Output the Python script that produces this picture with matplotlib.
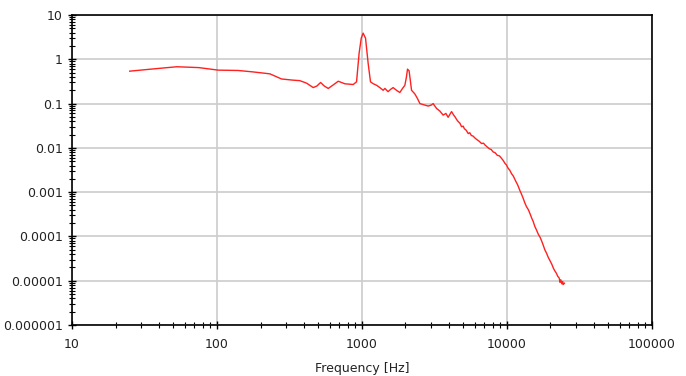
import matplotlib
matplotlib.use("Agg")
import matplotlib.pyplot as plt
from matplotlib.ticker import FixedLocator, FixedFormatter, LogLocator, NullFormatter

freq = [25, 35, 53, 75, 102, 140, 177, 232, 279, 330, 373, 415, 462, 490, 519, 550, 586, 630,
        687, 764, 872, 919, 957, 990, 1020, 1060, 1105, 1147, 1200, 1262, 1330, 1403, 1442,
        1517, 1580, 1643, 1733, 1828, 1908, 1981, 2030, 2066, 2118, 2202, 2322, 2420, 2515,
        2650, 2866, 3000, 3103, 3273, 3450, 3638, 3800, 3938, 4158, 4300, 4400, 4500, 4600,
        4750, 4876, 5000, 5100, 5250, 5420, 5550, 5700, 5850, 6000, 6150, 6290, 6500, 6700,
        6900, 7100, 7350, 7600, 7800, 8050, 8300, 8600, 8900, 9200, 9450, 9700, 9950, 10200,
        10500, 10800, 11100, 11500, 11900, 12300, 12600, 12970, 13300, 13680, 14100, 14500,
        14850, 15200, 15600, 16030, 16500, 17000, 17400, 17800, 18300, 18800, 19300, 19800,
        20400, 21000, 21500, 22000, 22500, 23000, 23300, 23600, 24000, 24300, 24500, 25000]
amp = [0.54, 0.60, 0.68, 0.65, 0.57, 0.56, 0.52, 0.47, 0.36, 0.34, 0.33, 0.29, 0.23, 0.25,
       0.30, 0.25, 0.22, 0.26, 0.32, 0.28, 0.27, 0.31, 1.37, 3.0, 3.9, 3.0, 0.81, 0.31, 0.28,
       0.26, 0.23, 0.20, 0.22, 0.186, 0.21, 0.23, 0.20, 0.178, 0.22, 0.26, 0.40, 0.60, 0.55,
       0.20, 0.165, 0.13, 0.10, 0.095, 0.088, 0.092, 0.10, 0.078, 0.068, 0.055, 0.060, 0.049,
       0.066, 0.055, 0.050, 0.044, 0.040, 0.036, 0.030, 0.031, 0.027, 0.025, 0.021, 0.022,
       0.019, 0.0185, 0.017, 0.0158, 0.015, 0.0138, 0.0125, 0.0128, 0.0115, 0.0104, 0.0095,
       0.0092, 0.0081, 0.0078, 0.0068, 0.0066, 0.0058, 0.0052, 0.0045, 0.0041, 0.0035,
       0.0031, 0.0026, 0.0023, 0.0018, 0.00145, 0.0011, 0.00092, 0.00073, 0.00058, 0.00047,
       0.00040, 0.00032, 0.00026, 0.00022, 0.00017, 0.00014, 0.000112, 0.000095, 0.000079,
       0.000065, 0.000050, 0.000042, 0.000034, 0.000029, 0.000024, 0.000019, 0.0000165,
       0.0000147, 0.0000125, 0.0000115, 0.0000092, 0.0000105, 0.0000085, 0.0000096,
       0.0000082, 0.0000088]

xticks = [10, 100, 1000, 10000, 100000]
xlabels = ["10", "100", "1000", "10000", "100000"]
yticks = [1e-6, 1e-5, 1e-4, 1e-3, 1e-2, 1e-1, 1, 10]
ylabels = ["0.000001", "0.00001", "0.0001", "0.001", "0.01", "0.1", "1", "10"]

fig = plt.figure(figsize=(6.86, 3.76), dpi=100)
ax = fig.add_axes([0.105, 0.1356, 0.845, 0.8244])
ax.plot(freq, amp, color="#ff2020", lw=1.0)
ax.set_xscale("log")
ax.set_yscale("log")
ax.set_xlim(10, 100000)
ax.set_ylim(1e-6, 10)

ax.xaxis.set_major_locator(FixedLocator(xticks))
ax.xaxis.set_major_formatter(FixedFormatter(xlabels))
ax.yaxis.set_major_locator(FixedLocator(yticks))
ax.yaxis.set_major_formatter(FixedFormatter(ylabels))
ax.xaxis.set_minor_locator(LogLocator(base=10, subs=range(2, 10), numticks=20))
ax.yaxis.set_minor_locator(LogLocator(base=10, subs=range(2, 10), numticks=20))
ax.xaxis.set_minor_formatter(NullFormatter())
ax.yaxis.set_minor_formatter(NullFormatter())

ax.grid(True, which="major", color="#cccccc", lw=1.2)
ax.set_axisbelow(True)
ax.tick_params(which="major", direction="inout", length=6, width=1, labelsize=9,
               colors="black", labelcolor="#222222")
ax.tick_params(which="minor", direction="inout", length=4, width=0.8)
ax.tick_params(axis="x", pad=6)
for s in ax.spines.values():
    s.set_color("black")
    s.set_linewidth(1.2)
ax.set_xlabel("Frequency [Hz]", fontsize=9, color="#222222", labelpad=8)

fig.savefig("out.png", dpi=100)
